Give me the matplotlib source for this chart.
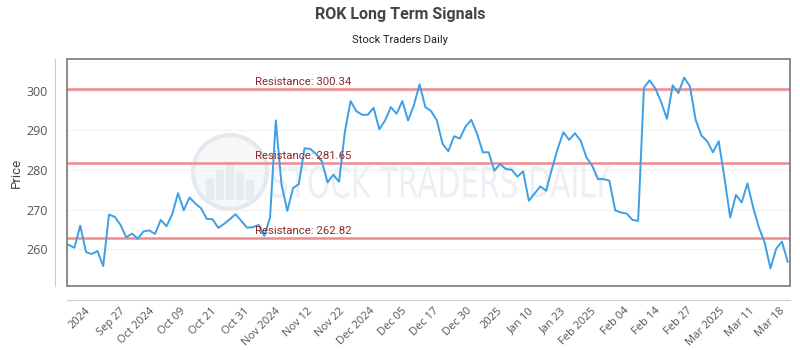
import matplotlib
matplotlib.use("Agg")
import matplotlib.pyplot as plt
from matplotlib.patches import Circle, Rectangle, PathPatch
from matplotlib.textpath import TextPath
from matplotlib.font_manager import FontProperties
from matplotlib.transforms import Affine2D

# daily closes (one per trading day)
prices = [
    261.05, 260.37, 265.95, 259.27, 258.77, 259.53, 255.72, 268.74, 268.15, 266.12,
    262.99, 263.92, 262.65, 264.48, 264.74, 263.84, 267.38, 265.78, 268.82, 274.14,
    269.83, 273.05, 271.53, 270.34, 267.64, 267.55, 265.36, 266.37, 267.55, 268.82,
    267.13, 265.44, 265.53, 266.12, 263.33, 267.98, 292.48, 276.26, 269.67, 275.41,
    276.43, 285.47, 285.30, 284.03, 282.17, 276.85, 278.79, 277.01, 289.52, 297.38,
    294.85, 293.92, 293.92, 295.69, 290.28, 292.48, 295.86, 294.17, 297.38, 292.48,
    296.28, 301.61, 295.86, 294.85, 292.48, 286.57, 284.71, 288.51, 287.92, 290.96,
    292.65, 289.10, 284.45, 284.45, 279.81, 281.50, 280.23, 280.06, 278.29, 279.64,
    272.20, 274.06, 275.84, 274.74, 280.23, 285.30, 289.52, 287.58, 289.27, 287.41,
    283.19, 281.07, 277.69, 277.69, 277.27, 269.83, 269.24, 268.99, 267.39, 267.13,
    300.76, 302.62, 300.51, 297.13, 292.90, 301.35, 299.41, 303.30, 301.10, 292.65,
    288.68, 287.24, 284.45, 287.24, 278.12, 267.98, 273.72, 271.78, 276.60, 270.51,
    265.44, 261.64, 255.13, 260.12, 261.89, 256.82,
]

tick_pos = [2.8, 8.8, 13.9, 19.3, 24.7, 30.4, 35.8, 41.4, 46.9, 52.3, 57.9, 63.4,
            69.2, 74.4, 80.0, 85.4, 90.8, 96.5, 101.9, 107.5, 113.1, 118.4, 123.6]
tick_labels = ["2024", "Sep 27", "Oct 2024", "Oct 09", "Oct 21", "Oct 31", "Nov 2024",
               "Nov 12", "Nov 22", "Dec 2024", "Dec 05", "Dec 17", "Dec 30", "2025",
               "Jan 10", "Jan 23", "Feb 2025", "Feb 04", "Feb 14", "Feb 27", "Mar 2025",
               "Mar 11", "Mar 18"]

resistance = [300.34, 281.65, 262.82]

plt.rcParams['font.family'] = ['Roboto', 'DejaVu Sans']

fig = plt.figure(figsize=(8, 3.5), dpi=100)
ax = fig.add_axes([67/800, 1 - 286/350, 723/800, 227/350])
px = Affine2D().scale(1/fig.dpi) + fig.dpi_scale_trans

# spines first: moving them resets the ticks
for s in ['top', 'right']:
    ax.spines[s].set_visible(False)
ax.spines['left'].set_position(('outward', 9))
ax.spines['bottom'].set_position(('outward', 10))
ax.spines['left'].set_color('#cccccc')
ax.spines['bottom'].set_color('#cccccc')
ax.add_patch(Rectangle((0, 0), 1, 1, transform=ax.transAxes, fill=False,
                       edgecolor='#777777', lw=1.2, zorder=5, clip_on=False))

# watermark
ax.add_patch(Circle((230, 350-172), 37, transform=px, facecolor='#f5f7f9',
                    edgecolor='#e5e9ee', lw=3, zorder=0.5, clip_on=False))
for bx, bh in [(210, 22), (220, 30), (230, 38), (240, 28), (250, 20)]:
    ax.add_patch(Rectangle((bx - 4, 350-200), 8, bh, transform=px, facecolor='#e8ecf0',
                           lw=0, zorder=0.6, clip_on=False))
tp = TextPath((0, 0), "STOCK TRADERS DAILY", size=10, prop=FontProperties(family='DejaVu Sans'))
ext = tp.get_extents()
tr = (Affine2D().translate(-ext.x0, -ext.y0)
      .scale((610-272)/ext.width, (198-166)/ext.height)
      .translate(272, 350-198) + px)
ax.add_patch(PathPatch(tp, transform=tr, facecolor='#eceff3', lw=0, zorder=0.6, clip_on=False))

x = list(range(len(prices)))
ax.plot(x, prices, color='#3d9fe6', lw=1.4, zorder=3)

for r in resistance:
    ax.axhline(r, color='#f08a8a', lw=1.8, zorder=2)
    ax.annotate(f"Resistance: {r:.2f}", (32.4, r), xytext=(0, 1.5), textcoords='offset points',
                color='#8b2a2a', fontsize=8.2, ha='left', va='bottom', zorder=4)

ax.set_xlim(-0.3, 125.4)
ax.set_ylim(250.7, 308)
ax.set_yticks([260, 270, 280, 290, 300])
ax.set_xticks(tick_pos)
ax.set_xticklabels(tick_labels, rotation=45, ha='right', rotation_mode='anchor',
                   fontsize=8, color='#555555', family=['Open Sans', 'DejaVu Sans'])
for lab in ax.get_yticklabels():
    lab.set_fontsize(9)
    lab.set_color('#555555')
    lab.set_family(['Open Sans', 'DejaVu Sans'])
ax.tick_params(axis='both', length=0)
ax.tick_params(axis='y', pad=5)
ax.tick_params(axis='x', pad=4)
ax.yaxis.grid(True, color='#f1f1f1', lw=0.8, zorder=0)
ax.set_axisbelow(True)

ax.set_ylabel("Price", fontsize=9.5, color='#444444', labelpad=2)

fig.text(0.5, 1 - 15/350, "ROK Long Term Signals", ha='center', va='center',
         fontsize=11.5, fontweight='bold', color='#444444')
fig.text(0.5, 1 - 40/350, "Stock Traders Daily", ha='center', va='center',
         fontsize=8, color='#222222')

fig.savefig("out.png", dpi=100)
